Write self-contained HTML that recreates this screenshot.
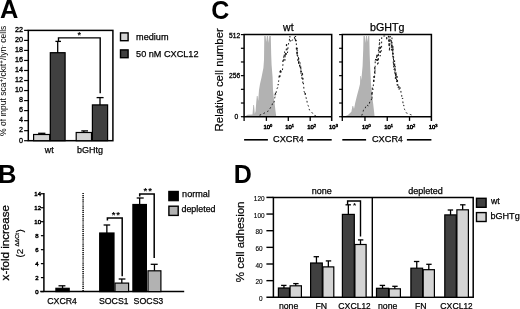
<!DOCTYPE html>
<html><head><meta charset="utf-8"><title>Figure</title>
<style>
html,body{margin:0;padding:0;background:#fff;}
body{width:520px;height:309px;overflow:hidden;}
svg{display:block;font-family:"Liberation Sans",Arial,Helvetica,sans-serif;fill:#000;}
</style></head><body>
<svg width="520" height="309" viewBox="0 0 520 309">
<defs><filter id="soft" x="0" y="0" width="520" height="309" filterUnits="userSpaceOnUse"><feGaussianBlur stdDeviation="0.38"/></filter></defs>
<rect x="0" y="0" width="520" height="309" fill="#fff" stroke="none"/>
<g filter="url(#soft)">
<text x="0.1" y="17.8" font-size="25.4" text-anchor="start" font-weight="bold"  >A</text>
<rect x="28.3" y="30.4" width="84.6" height="110.3" fill="none" stroke="#000" stroke-width="1.5"/>
<line x1="24.1" y1="140.7" x2="28.3" y2="140.7" stroke="#000" stroke-width="1.2" />
<text x="23" y="142.5" font-size="7.2" text-anchor="end" font-weight="normal" stroke="#000" stroke-width="0.35" >0</text>
<line x1="24.1" y1="130.67" x2="28.3" y2="130.67" stroke="#000" stroke-width="1.2" />
<text x="23" y="132.47" font-size="7.2" text-anchor="end" font-weight="normal" stroke="#000" stroke-width="0.35" >2</text>
<line x1="24.1" y1="120.64" x2="28.3" y2="120.64" stroke="#000" stroke-width="1.2" />
<text x="23" y="122.44" font-size="7.2" text-anchor="end" font-weight="normal" stroke="#000" stroke-width="0.35" >4</text>
<line x1="24.1" y1="110.61" x2="28.3" y2="110.61" stroke="#000" stroke-width="1.2" />
<text x="23" y="112.41" font-size="7.2" text-anchor="end" font-weight="normal" stroke="#000" stroke-width="0.35" >6</text>
<line x1="24.1" y1="100.58" x2="28.3" y2="100.58" stroke="#000" stroke-width="1.2" />
<text x="23" y="102.38" font-size="7.2" text-anchor="end" font-weight="normal" stroke="#000" stroke-width="0.35" >8</text>
<line x1="24.1" y1="90.55" x2="28.3" y2="90.55" stroke="#000" stroke-width="1.2" />
<text x="23" y="92.35" font-size="7.2" text-anchor="end" font-weight="normal" stroke="#000" stroke-width="0.35" >10</text>
<line x1="24.1" y1="80.52" x2="28.3" y2="80.52" stroke="#000" stroke-width="1.2" />
<text x="23" y="82.32" font-size="7.2" text-anchor="end" font-weight="normal" stroke="#000" stroke-width="0.35" >12</text>
<line x1="24.1" y1="70.49" x2="28.3" y2="70.49" stroke="#000" stroke-width="1.2" />
<text x="23" y="72.29" font-size="7.2" text-anchor="end" font-weight="normal" stroke="#000" stroke-width="0.35" >14</text>
<line x1="24.1" y1="60.46" x2="28.3" y2="60.46" stroke="#000" stroke-width="1.2" />
<text x="23" y="62.26" font-size="7.2" text-anchor="end" font-weight="normal" stroke="#000" stroke-width="0.35" >16</text>
<line x1="24.1" y1="50.43" x2="28.3" y2="50.43" stroke="#000" stroke-width="1.2" />
<text x="23" y="52.23" font-size="7.2" text-anchor="end" font-weight="normal" stroke="#000" stroke-width="0.35" >18</text>
<line x1="24.1" y1="40.4" x2="28.3" y2="40.4" stroke="#000" stroke-width="1.2" />
<text x="23" y="42.2" font-size="7.2" text-anchor="end" font-weight="normal" stroke="#000" stroke-width="0.35" >20</text>
<line x1="24.1" y1="30.37" x2="28.3" y2="30.37" stroke="#000" stroke-width="1.2" />
<text x="23" y="32.17" font-size="7.2" text-anchor="end" font-weight="normal" stroke="#000" stroke-width="0.35" >22</text>
<line x1="41.65" y1="134.9" x2="41.65" y2="133.3" stroke="#000" stroke-width="1.3" />
<line x1="38.1" y1="133.3" x2="45.4" y2="133.3" stroke="#000" stroke-width="1.3" />
<rect x="33.6" y="134.5" width="16.1" height="6.2" fill="#d4d4d4" stroke="#000" stroke-width="1.2"/>
<line x1="57.7" y1="53.1" x2="57.7" y2="41.4" stroke="#000" stroke-width="1.3" />
<line x1="55.4" y1="41.4" x2="61" y2="41.4" stroke="#000" stroke-width="1.3" />
<rect x="50.3" y="52.7" width="14.8" height="88" fill="#3f3f3f" stroke="#000" stroke-width="1.2"/>
<line x1="83.85" y1="132.9" x2="83.85" y2="130.9" stroke="#000" stroke-width="1.3" />
<line x1="81.3" y1="130.9" x2="88" y2="130.9" stroke="#000" stroke-width="1.3" />
<rect x="76.2" y="132.5" width="15.3" height="8.2" fill="#d4d4d4" stroke="#000" stroke-width="1.2"/>
<line x1="100" y1="105.3" x2="100" y2="97.6" stroke="#000" stroke-width="1.3" />
<line x1="96.6" y1="97.6" x2="103.6" y2="97.6" stroke="#000" stroke-width="1.3" />
<rect x="92.4" y="104.9" width="15.2" height="35.8" fill="#3f3f3f" stroke="#000" stroke-width="1.2"/>
<path d="M58.5,41.4 V37.9 H100.2 V93.2" fill="none" stroke="#000" stroke-width="1.4"/>
<text x="79.3" y="38.4" font-size="9" text-anchor="middle" font-weight="bold"  >*</text>
<text x="49.2" y="152.7" font-size="8.8" text-anchor="middle" font-weight="normal" stroke="#000" stroke-width="0.25" >wt</text>
<text x="90.1" y="152.7" font-size="9" text-anchor="middle" font-weight="normal" stroke="#000" stroke-width="0.25" >bGHtg</text>
<text transform="translate(6.2,80.8) rotate(-90)" font-size="8.5" text-anchor="middle" >% of input sca<tspan font-size="6.3" dy="-2.4">+</tspan><tspan dy="2.4">/ckit</tspan><tspan font-size="6.3" dy="-2.4">+</tspan><tspan dy="2.4">/lyn</tspan><tspan font-size="5.5" dy="-2.6">-</tspan><tspan dy="2.6"> cells</tspan></text>
<rect x="120.5" y="32.9" width="7.6" height="7.8" fill="#d4d4d4" stroke="#000" stroke-width="1.4"/>
<rect x="120.5" y="49.9" width="7.6" height="7.8" fill="#3f3f3f" stroke="#000" stroke-width="1.4"/>
<text x="136.1" y="39.7" font-size="9.15" text-anchor="start" font-weight="normal" stroke="#000" stroke-width="0.25" >medium</text>
<text x="136.1" y="56.7" font-size="9.15" text-anchor="start" font-weight="normal" stroke="#000" stroke-width="0.25" >50 nM CXCL12</text>
<text x="211.2" y="19.1" font-size="25" text-anchor="start" font-weight="bold"  >C</text>
<text transform="translate(223.1,79.8) rotate(-90)" font-size="11.4" text-anchor="middle" stroke="#000" stroke-width="0.2">Relative cell number</text>
<polygon points="244.2,116.7 247.6,114.8 252.5,114.4 253.3,105 254,105 254.8,114 255.6,111 256.2,103 256.8,96 257.6,96 258.2,101 259,90 260,84 261.5,77.6 262.6,72 263.4,67.9 264,60 264.3,36 265.6,36 266.2,42 266.9,36 268,36 268.6,43 269.3,36 270.8,36 271.2,55 271.6,65 272.6,77.6 273,90 274,100 274.7,104 275.5,111 276.3,116.7" fill="#b2b2b2"/>
<path d="M259.53,115.22 L261.06,114.64 L262.24,114.17 L264.2,113.16 L265.34,112.54 L266.98,112.51 L267.81,111.35 L268.44,110.06 L269.7,109.01 L270.44,107.75 L270.84,106.84 L271.95,105.85 L272.42,103.39 L273.48,103.83 L274.09,101.88 L274.49,100.37 L274.78,97.57 L275.13,96.36 L274.89,96.99 L275.23,91.97 L275.81,95.02 L276.18,92.01 L276.68,90.09 L277.25,87.88 L277.67,87.94 L277.91,87.23 L278.17,87.12 L277.9,84.46 L278.6,84.57 L278.59,83.63 L278.6,80.77 L279.04,80.45 L279.07,74.42 L279.96,78.31 L280.18,69.92 L280.12,71.66 L280.83,69.21 L280.73,73.83 L281.13,69.81 L281.7,69.58 L282.49,70.07 L282.9,64.46 L282.75,60.75 L283.05,62.87 L283.61,56.58 L283.79,60.4 L284.55,51.72 L284.94,53.86 L284.93,60.38 L285.26,53.12 L285.56,54.37 L285.82,51.86 L286,56.16 L286.38,47.3 L286.38,42.98 L287.51,52.98 L288.21,44.77 L289.21,41.29 L289.9,36 L290.24,42.23 L291.43,40.69 L292.31,40.14 L294.44,39.67 L294.46,36 L295.43,41.53 L295.55,36 L295.89,42.54 L296.04,40.15 L296.36,41.65 L296.38,41.98 L296.32,50.7 L296.89,48.92 L296.73,46.43 L296.89,55.04 L297.16,47.55 L297.19,56.09 L297.57,52.24 L297.86,60.45 L297.93,61.98 L298.46,56.58 L298.57,64.8 L298.73,58.05 L299.13,63.15 L299.88,67.74 L299.91,62.04 L300.49,70.36 L300.57,71.58 L300.8,65.82 L301.05,73.93 L301.4,70.8 L301.66,72.86 L301.77,78.81 L302.5,71.87 L302.79,80.87 L302.98,78.47 L302.76,83.83 L303.34,83.72 L303.36,84.44 L303.46,83.17 L303.51,84.23 L303.85,88.05 L303.92,90.79 L304.52,92.64 L304.9,93.93 L304.98,94.96 L305.35,91.73 L305.35,93.9 L305.75,97.43 L306.26,97.65 L306.22,99.87 L306.86,100.02 L307.13,102.25 L307.1,103.34 L307.79,105.29 L308.41,105.73 L309.05,108.57 L309.2,109.55 L310.57,110.63 L311.06,111.42 L312.42,113.13 L313.58,114.67 L314.5,115.43 L316,116" fill="none" stroke="#111" stroke-width="0.95" stroke-dasharray="1.7,2.6" stroke-linejoin="round"/>
<path d="M244.1,116.7 V34.6 H331.7 V120.9" fill="none" stroke="#000" stroke-width="1.5"/>
<line x1="243.35" y1="116.7" x2="331.7" y2="116.7" stroke="#000" stroke-width="1.5" />
<line x1="240.9" y1="34.6" x2="244.1" y2="34.6" stroke="#000" stroke-width="1.2" />
<line x1="240.9" y1="48.28" x2="244.1" y2="48.28" stroke="#000" stroke-width="1.2" />
<line x1="240.9" y1="61.97" x2="244.1" y2="61.97" stroke="#000" stroke-width="1.2" />
<line x1="240.9" y1="75.65" x2="244.1" y2="75.65" stroke="#000" stroke-width="1.2" />
<line x1="240.9" y1="89.33" x2="244.1" y2="89.33" stroke="#000" stroke-width="1.2" />
<line x1="240.9" y1="103.02" x2="244.1" y2="103.02" stroke="#000" stroke-width="1.2" />
<line x1="240.9" y1="116.7" x2="244.1" y2="116.7" stroke="#000" stroke-width="1.2" />
<line x1="244.1" y1="116.7" x2="244.1" y2="120.9" stroke="#000" stroke-width="1.3" />
<line x1="266.4" y1="116.7" x2="266.4" y2="120.9" stroke="#000" stroke-width="1.3" />
<line x1="288.3" y1="116.7" x2="288.3" y2="120.9" stroke="#000" stroke-width="1.3" />
<line x1="310.2" y1="116.7" x2="310.2" y2="120.9" stroke="#000" stroke-width="1.3" />
<text x="263.4" y="128.9" font-size="5.9" text-anchor="start" font-weight="normal" stroke="#000" stroke-width="0.5" >10<tspan font-size="4" dy="-2.2">0</tspan></text>
<text x="285.3" y="128.9" font-size="5.9" text-anchor="start" font-weight="normal" stroke="#000" stroke-width="0.5" >10<tspan font-size="4" dy="-2.2">1</tspan></text>
<text x="307.2" y="128.9" font-size="5.9" text-anchor="start" font-weight="normal" stroke="#000" stroke-width="0.5" >10<tspan font-size="4" dy="-2.2">2</tspan></text>
<text x="329.1" y="128.9" font-size="5.9" text-anchor="start" font-weight="normal" stroke="#000" stroke-width="0.5" >10<tspan font-size="4" dy="-2.2">3</tspan></text>
<text x="288.3" y="31" font-size="10.5" text-anchor="middle" font-weight="normal" stroke="#000" stroke-width="0.25" >wt</text>
<text x="288.4" y="141.8" font-size="9.2" text-anchor="middle" font-weight="normal" stroke="#000" stroke-width="0.25" >CXCR<tspan font-size="8.4">4</tspan></text>
<line x1="244.1" y1="139.8" x2="267.9" y2="139.8" stroke="#000" stroke-width="1.6" />
<line x1="307.2" y1="139.8" x2="331.7" y2="139.8" stroke="#000" stroke-width="1.6" />
<polygon points="342.4,116.7 345.6,116 348,115 351.4,111.8 352.4,106 353.2,106 354,109 355.2,103 357,95.6 358.5,90 360,84 360.3,76 360.9,76 361.3,80 362,72.6 362.6,66 363.2,50 363.5,36 364.8,36 365.4,43 366,36 367,36 367.6,42 368.2,36 369.3,36 369.7,55 370.2,67.9 371,84 372.4,97.5 373.2,104 374,110.9 374.6,116.7" fill="#b2b2b2"/>
<path d="M361.79,115.54 L362.19,114.31 L362.82,112.84 L363.35,110.7 L363.76,109.07 L364.29,108.01 L365.46,107.8 L365.83,105.91 L367.14,106.41 L367.67,105.27 L368.33,105.81 L369.27,104.47 L369.97,100.43 L371.19,100.1 L371.75,98.13 L372.32,99.26 L372.02,97.48 L371.98,93.15 L372,95.8 L371.97,92 L371.68,91.65 L372.19,92.97 L372.38,87.23 L372.83,88.22 L372.74,88.73 L372.9,89.85 L373.55,83.2 L373.52,79.1 L373.76,76.42 L373.83,82.89 L373.8,82.92 L374.1,79.59 L374.15,76.92 L374.57,78.89 L374.56,73.03 L374.74,66.27 L375.07,72.94 L374.8,74.23 L375.19,66.8 L375.22,60.14 L375.17,60.95 L375.88,57.93 L375.89,57.7 L376.58,60.62 L376.65,54.22 L377.23,60.84 L377.57,64.3 L377.65,53.56 L378.28,53.69 L378.19,63.47 L378.52,47.47 L378.95,47.04 L379.1,52.56 L379.47,39.39 L379.84,45.31 L380.21,56.17 L380.47,45.63 L380.43,47.8 L381.17,51.48 L381.55,49.68 L381.69,37.32 L382.21,36 L382.24,36 L384.3,36 L384.73,36 L385.29,36 L385.92,36 L386.62,36 L386.59,40.37 L387.11,36 L388.37,36 L389.1,46.6 L388.99,39.02 L388.96,36 L389.26,39.1 L389.4,51.17 L390.27,36 L390.19,41.97 L390.52,40.99 L391.33,41.84 L391.4,50.5 L391.44,38.36 L391.92,37.62 L392.17,46.69 L391.98,43.7 L392.59,54.87 L392.63,56.83 L392.74,57.27 L392.76,46.97 L392.62,50.76 L392.92,45.98 L393.32,51.61 L393.29,65.35 L393.73,66.04 L393.48,67.39 L393.52,56.11 L393.62,57.02 L394.22,65.19 L394.15,69.74 L394.52,67.95 L394.62,60.58 L394.87,73.99 L394.87,72.76 L395.23,65.93 L395.42,69.33 L395.36,79.01 L395.87,72.74 L395.7,78 L395.99,71.89 L396.68,82.35 L397,74.78 L397.19,85.29 L397.43,79.61 L397.41,78.6 L398.09,88.28 L398.66,85.05 L399.02,85.39 L399.03,90.09 L399.48,86.29 L400.05,87.49 L400.35,88.93 L400.91,89.27 L400.91,92.17 L401.44,94.96 L401.72,95.1 L401.75,96.81 L401.71,98.13 L402.06,98.89 L402.68,97.97 L402.73,100.12 L403.03,103.74 L403.26,103.34 L403.67,105.39 L403.79,105.18 L403.87,106.91 L404.6,109.54 L405.36,110.32 L405.77,112.14 L406.4,112.93 L407.82,113.51 L409.02,114.16 L410.43,114.52 L411.56,114.98 L412.5,115.2" fill="none" stroke="#111" stroke-width="0.95" stroke-dasharray="1.7,2.6" stroke-linejoin="round"/>
<path d="M342.3,116.7 V34.6 H431.4 V120.9" fill="none" stroke="#000" stroke-width="1.5"/>
<line x1="341.55" y1="116.7" x2="431.4" y2="116.7" stroke="#000" stroke-width="1.5" />
<line x1="339.1" y1="34.6" x2="342.3" y2="34.6" stroke="#000" stroke-width="1.2" />
<line x1="339.1" y1="48.28" x2="342.3" y2="48.28" stroke="#000" stroke-width="1.2" />
<line x1="339.1" y1="61.97" x2="342.3" y2="61.97" stroke="#000" stroke-width="1.2" />
<line x1="339.1" y1="75.65" x2="342.3" y2="75.65" stroke="#000" stroke-width="1.2" />
<line x1="339.1" y1="89.33" x2="342.3" y2="89.33" stroke="#000" stroke-width="1.2" />
<line x1="339.1" y1="103.02" x2="342.3" y2="103.02" stroke="#000" stroke-width="1.2" />
<line x1="339.1" y1="116.7" x2="342.3" y2="116.7" stroke="#000" stroke-width="1.2" />
<line x1="342.3" y1="116.7" x2="342.3" y2="120.9" stroke="#000" stroke-width="1.3" />
<line x1="364.97" y1="116.7" x2="364.97" y2="120.9" stroke="#000" stroke-width="1.3" />
<line x1="387.25" y1="116.7" x2="387.25" y2="120.9" stroke="#000" stroke-width="1.3" />
<line x1="409.52" y1="116.7" x2="409.52" y2="120.9" stroke="#000" stroke-width="1.3" />
<text x="361.97" y="128.9" font-size="5.9" text-anchor="start" font-weight="normal" stroke="#000" stroke-width="0.5" >10<tspan font-size="4" dy="-2.2">0</tspan></text>
<text x="384.25" y="128.9" font-size="5.9" text-anchor="start" font-weight="normal" stroke="#000" stroke-width="0.5" >10<tspan font-size="4" dy="-2.2">1</tspan></text>
<text x="406.52" y="128.9" font-size="5.9" text-anchor="start" font-weight="normal" stroke="#000" stroke-width="0.5" >10<tspan font-size="4" dy="-2.2">2</tspan></text>
<text x="428.8" y="128.9" font-size="5.9" text-anchor="start" font-weight="normal" stroke="#000" stroke-width="0.5" >10<tspan font-size="4" dy="-2.2">3</tspan></text>
<text x="387.25" y="31" font-size="10.7" text-anchor="middle" font-weight="normal" stroke="#000" stroke-width="0.25" >bGHTg</text>
<text x="387.35" y="141.8" font-size="9.2" text-anchor="middle" font-weight="normal" stroke="#000" stroke-width="0.25" >CXCR<tspan font-size="8.4">4</tspan></text>
<line x1="342.3" y1="139.8" x2="366.1" y2="139.8" stroke="#000" stroke-width="1.6" />
<line x1="406.9" y1="139.8" x2="431.4" y2="139.8" stroke="#000" stroke-width="1.6" />
<text x="240.2" y="37.5" font-size="6.7" text-anchor="end" font-weight="normal" stroke="#000" stroke-width="0.3" >512</text>
<text x="240.2" y="78.3" font-size="6.7" text-anchor="end" font-weight="normal" stroke="#000" stroke-width="0.3" >256</text>
<text x="238.2" y="119.4" font-size="6.7" text-anchor="end" font-weight="normal" stroke="#000" stroke-width="0.3" >0</text>
<text x="-1.9" y="183.2" font-size="25.5" text-anchor="start" font-weight="bold"  >B</text>
<line x1="43.9" y1="192.9" x2="43.9" y2="291.6" stroke="#000" stroke-width="1.5" />
<line x1="40.2" y1="291.6" x2="184.2" y2="291.6" stroke="#000" stroke-width="1.5" />
<line x1="40.9" y1="291.6" x2="43.9" y2="291.6" stroke="#000" stroke-width="1.2" />
<text x="38.5" y="293.7" font-size="6.0" text-anchor="end" font-weight="normal" stroke="#000" stroke-width="0.45" >0</text>
<line x1="40.9" y1="277.62" x2="43.9" y2="277.62" stroke="#000" stroke-width="1.2" />
<text x="38.5" y="279.72" font-size="6.0" text-anchor="end" font-weight="normal" stroke="#000" stroke-width="0.45" >2</text>
<line x1="40.9" y1="263.64" x2="43.9" y2="263.64" stroke="#000" stroke-width="1.2" />
<text x="38.5" y="265.74" font-size="6.0" text-anchor="end" font-weight="normal" stroke="#000" stroke-width="0.45" >4</text>
<line x1="40.9" y1="249.66" x2="43.9" y2="249.66" stroke="#000" stroke-width="1.2" />
<text x="38.5" y="251.76" font-size="6.0" text-anchor="end" font-weight="normal" stroke="#000" stroke-width="0.45" >6</text>
<line x1="40.9" y1="235.68" x2="43.9" y2="235.68" stroke="#000" stroke-width="1.2" />
<text x="38.5" y="237.78" font-size="6.0" text-anchor="end" font-weight="normal" stroke="#000" stroke-width="0.45" >8</text>
<line x1="40.9" y1="221.7" x2="43.9" y2="221.7" stroke="#000" stroke-width="1.2" />
<text x="41" y="223.8" font-size="6.0" text-anchor="end" font-weight="normal" stroke="#000" stroke-width="0.45" >10</text>
<line x1="40.9" y1="207.72" x2="43.9" y2="207.72" stroke="#000" stroke-width="1.2" />
<text x="41" y="209.82" font-size="6.0" text-anchor="end" font-weight="normal" stroke="#000" stroke-width="0.45" >12</text>
<line x1="40.9" y1="193.74" x2="43.9" y2="193.74" stroke="#000" stroke-width="1.2" />
<text x="41" y="195.84" font-size="6.0" text-anchor="end" font-weight="normal" stroke="#000" stroke-width="0.45" >14</text>
<line x1="83.1" y1="193" x2="83.1" y2="291" stroke="#000" stroke-width="1.5" stroke-dasharray="1.1,0.8"/>
<line x1="62.55" y1="288.7" x2="62.55" y2="285.8" stroke="#000" stroke-width="1.3" />
<line x1="58.5" y1="285.8" x2="65.4" y2="285.8" stroke="#000" stroke-width="1.3" />
<rect x="55.9" y="288.3" width="13.3" height="3.3" fill="#000" stroke="#000" stroke-width="1.2"/>
<line x1="106.85" y1="233.4" x2="106.85" y2="225" stroke="#000" stroke-width="1.3" />
<line x1="103.6" y1="225" x2="110.2" y2="225" stroke="#000" stroke-width="1.3" />
<rect x="99.7" y="233" width="14.3" height="58.6" fill="#000" stroke="#000" stroke-width="1.2"/>
<line x1="121.8" y1="283.5" x2="121.8" y2="279" stroke="#000" stroke-width="1.3" />
<line x1="118.7" y1="279" x2="125.4" y2="279" stroke="#000" stroke-width="1.3" />
<rect x="115" y="283.1" width="13.6" height="8.5" fill="#b2b2b2" stroke="#000" stroke-width="1.2"/>
<line x1="139.65" y1="204.9" x2="139.65" y2="198" stroke="#000" stroke-width="1.3" />
<line x1="136.7" y1="198" x2="143.7" y2="198" stroke="#000" stroke-width="1.3" />
<rect x="132.9" y="204.5" width="13.5" height="87.1" fill="#000" stroke="#000" stroke-width="1.2"/>
<line x1="154.45" y1="271.2" x2="154.45" y2="264.3" stroke="#000" stroke-width="1.3" />
<line x1="150.7" y1="264.3" x2="157.7" y2="264.3" stroke="#000" stroke-width="1.3" />
<rect x="148" y="270.8" width="12.9" height="20.8" fill="#b2b2b2" stroke="#000" stroke-width="1.2"/>
<path d="M107.4,220.6 V218.1 H122.2 V276.2" fill="none" stroke="#000" stroke-width="1.5"/>
<path d="M139.7,196.5 V194.1 H154.2 V258" fill="none" stroke="#000" stroke-width="1.5"/>
<text x="116.3" y="218" font-size="9.5" text-anchor="middle" font-weight="bold"  letter-spacing="0.9">**</text>
<text x="148.2" y="194.4" font-size="9.5" text-anchor="middle" font-weight="bold"  letter-spacing="0.9">**</text>
<text x="62" y="304.3" font-size="8.8" text-anchor="middle" font-weight="normal" stroke="#000" stroke-width="0.25" >CXCR<tspan font-size="8.5">4</tspan></text>
<text x="113.7" y="304.2" font-size="8.8" text-anchor="middle" font-weight="normal" stroke="#000" stroke-width="0.25" >SOCS<tspan font-size="8.4">1</tspan></text>
<text x="148.4" y="304.2" font-size="8.8" text-anchor="middle" font-weight="normal" stroke="#000" stroke-width="0.25" >SOCS<tspan font-size="8.4">3</tspan></text>
<text transform="translate(8.9,242.7) rotate(-90)" font-size="11.6" text-anchor="middle" stroke="#000" stroke-width="0.28">x-fold increase</text>
<text transform="translate(22.6,257.4) rotate(-90)" font-size="9.8" text-anchor="start" stroke="#000" stroke-width="0.15">(2</text>
<text transform="translate(18.9,246.6) rotate(-90)" font-size="5.8" text-anchor="start" stroke="#000" stroke-width="0.2">ΔΔCt</text>
<text transform="translate(22.6,232.6) rotate(-90)" font-size="9.8" text-anchor="start" stroke="#000" stroke-width="0.15">)</text>
<rect x="168.8" y="191.4" width="9.5" height="9.3" fill="#000" stroke="#000" stroke-width="1.2"/>
<rect x="168.9" y="206.2" width="9.3" height="9.2" fill="#b2b2b2" stroke="#000" stroke-width="1.4"/>
<text x="182.1" y="197.3" font-size="9.1" text-anchor="start" font-weight="normal" stroke="#000" stroke-width="0.25" >normal</text>
<text x="181.5" y="212.3" font-size="8.9" text-anchor="start" font-weight="normal" stroke="#000" stroke-width="0.25" >depleted</text>
<text x="233.7" y="182.9" font-size="25" text-anchor="start" font-weight="bold"  >D</text>
<path d="M273.4,297.3 V197.4 H473.2 V297.3" fill="none" stroke="#000" stroke-width="1.5"/>
<line x1="266.4" y1="297.3" x2="473.95" y2="297.3" stroke="#000" stroke-width="1.5" />
<line x1="266.4" y1="197.4" x2="273.4" y2="197.4" stroke="#000" stroke-width="1.5" />
<line x1="372.3" y1="197.4" x2="372.3" y2="297.3" stroke="#000" stroke-width="1.4" />
<text transform="translate(262.7,301) scale(0.86,1)" font-size="7.5" text-anchor="end" stroke="#000" stroke-width="0.15">0</text>
<line x1="266.4" y1="280.65" x2="273.4" y2="280.65" stroke="#000" stroke-width="1.4" />
<text transform="translate(262.7,284.35) scale(0.86,1)" font-size="7.5" text-anchor="end" stroke="#000" stroke-width="0.15">20</text>
<line x1="266.4" y1="264" x2="273.4" y2="264" stroke="#000" stroke-width="1.4" />
<text transform="translate(262.7,267.7) scale(0.86,1)" font-size="7.5" text-anchor="end" stroke="#000" stroke-width="0.15">40</text>
<line x1="266.4" y1="247.35" x2="273.4" y2="247.35" stroke="#000" stroke-width="1.4" />
<text transform="translate(262.7,251.05) scale(0.86,1)" font-size="7.5" text-anchor="end" stroke="#000" stroke-width="0.15">60</text>
<line x1="266.4" y1="230.7" x2="273.4" y2="230.7" stroke="#000" stroke-width="1.4" />
<text transform="translate(262.7,234.4) scale(0.86,1)" font-size="7.5" text-anchor="end" stroke="#000" stroke-width="0.15">80</text>
<line x1="266.4" y1="214.05" x2="273.4" y2="214.05" stroke="#000" stroke-width="1.4" />
<text transform="translate(264.6,217.75) scale(0.86,1)" font-size="7.5" text-anchor="end" stroke="#000" stroke-width="0.15">100</text>
<text transform="translate(264.6,201.1) scale(0.86,1)" font-size="7.5" text-anchor="end" stroke="#000" stroke-width="0.15">120</text>
<line x1="283.95" y1="288.4" x2="283.95" y2="285.4" stroke="#000" stroke-width="1.3" />
<line x1="281.1" y1="285.4" x2="286.5" y2="285.4" stroke="#000" stroke-width="1.3" />
<rect x="278.4" y="288" width="11.1" height="9.3" fill="#3f3f3f" stroke="#000" stroke-width="1.2"/>
<line x1="295.75" y1="286.2" x2="295.75" y2="283.6" stroke="#000" stroke-width="1.3" />
<line x1="293.2" y1="283.6" x2="298.6" y2="283.6" stroke="#000" stroke-width="1.3" />
<rect x="290.1" y="285.8" width="11.3" height="11.5" fill="#d4d4d4" stroke="#000" stroke-width="1.2"/>
<line x1="316.45" y1="263.4" x2="316.45" y2="256.7" stroke="#000" stroke-width="1.3" />
<line x1="313.6" y1="256.7" x2="319" y2="256.7" stroke="#000" stroke-width="1.3" />
<rect x="310.6" y="263" width="11.7" height="34.3" fill="#3f3f3f" stroke="#000" stroke-width="1.2"/>
<line x1="328.35" y1="267.3" x2="328.35" y2="260.9" stroke="#000" stroke-width="1.3" />
<line x1="325.8" y1="260.9" x2="331.2" y2="260.9" stroke="#000" stroke-width="1.3" />
<rect x="322.9" y="266.9" width="10.9" height="30.4" fill="#d4d4d4" stroke="#000" stroke-width="1.2"/>
<line x1="348.35" y1="214.8" x2="348.35" y2="204.8" stroke="#000" stroke-width="1.3" />
<line x1="345.5" y1="204.8" x2="350.9" y2="204.8" stroke="#000" stroke-width="1.3" />
<rect x="342.4" y="214.4" width="11.9" height="82.9" fill="#3f3f3f" stroke="#000" stroke-width="1.2"/>
<line x1="360.5" y1="244.9" x2="360.5" y2="239.9" stroke="#000" stroke-width="1.3" />
<line x1="357.95" y1="239.9" x2="363.35" y2="239.9" stroke="#000" stroke-width="1.3" />
<rect x="354.9" y="244.5" width="11.2" height="52.8" fill="#d4d4d4" stroke="#000" stroke-width="1.2"/>
<line x1="382.55" y1="288.7" x2="382.55" y2="285.4" stroke="#000" stroke-width="1.3" />
<line x1="379.7" y1="285.4" x2="385.1" y2="285.4" stroke="#000" stroke-width="1.3" />
<rect x="376.5" y="288.3" width="12.1" height="9" fill="#3f3f3f" stroke="#000" stroke-width="1.2"/>
<line x1="394.8" y1="289.2" x2="394.8" y2="286.3" stroke="#000" stroke-width="1.3" />
<line x1="392.25" y1="286.3" x2="397.65" y2="286.3" stroke="#000" stroke-width="1.3" />
<rect x="389.2" y="288.8" width="11.2" height="8.5" fill="#d4d4d4" stroke="#000" stroke-width="1.2"/>
<line x1="416.75" y1="268.6" x2="416.75" y2="261.5" stroke="#000" stroke-width="1.3" />
<line x1="413.9" y1="261.5" x2="419.3" y2="261.5" stroke="#000" stroke-width="1.3" />
<rect x="410.9" y="268.2" width="11.7" height="29.1" fill="#3f3f3f" stroke="#000" stroke-width="1.2"/>
<line x1="428.8" y1="270.1" x2="428.8" y2="264.3" stroke="#000" stroke-width="1.3" />
<line x1="426.25" y1="264.3" x2="431.65" y2="264.3" stroke="#000" stroke-width="1.3" />
<rect x="423.2" y="269.7" width="11.2" height="27.6" fill="#d4d4d4" stroke="#000" stroke-width="1.2"/>
<line x1="450.55" y1="215.3" x2="450.55" y2="210" stroke="#000" stroke-width="1.3" />
<line x1="447.7" y1="210" x2="453.1" y2="210" stroke="#000" stroke-width="1.3" />
<rect x="444.8" y="214.9" width="11.5" height="82.4" fill="#3f3f3f" stroke="#000" stroke-width="1.2"/>
<line x1="462.65" y1="210.2" x2="462.65" y2="204.8" stroke="#000" stroke-width="1.3" />
<line x1="460.1" y1="204.8" x2="465.5" y2="204.8" stroke="#000" stroke-width="1.3" />
<rect x="456.9" y="209.8" width="11.5" height="87.5" fill="#d4d4d4" stroke="#000" stroke-width="1.2"/>
<path d="M347.6,204.8 V201 H360.5 V236.6" fill="none" stroke="#000" stroke-width="1.4"/>
<text x="354.6" y="208.3" font-size="8" text-anchor="middle" font-weight="bold"  >*</text>
<text x="321.8" y="193.8" font-size="9" text-anchor="middle" font-weight="normal" stroke="#000" stroke-width="0.25" >none</text>
<text x="425.5" y="193.6" font-size="9" text-anchor="middle" font-weight="normal" stroke="#000" stroke-width="0.25" >depleted</text>
<text x="288.6" y="308.7" font-size="8.7" text-anchor="middle" font-weight="normal" stroke="#000" stroke-width="0.25" >none</text>
<text x="321.2" y="308.7" font-size="8.7" text-anchor="middle" font-weight="normal" stroke="#000" stroke-width="0.25" >FN</text>
<text x="354.5" y="308.7" font-size="8.7" text-anchor="middle" font-weight="normal" stroke="#000" stroke-width="0.25" >CXCL<tspan font-size="8.2">12</tspan></text>
<text x="387.7" y="308.7" font-size="8.7" text-anchor="middle" font-weight="normal" stroke="#000" stroke-width="0.25" >none</text>
<text x="420.8" y="308.7" font-size="8.7" text-anchor="middle" font-weight="normal" stroke="#000" stroke-width="0.25" >FN</text>
<text x="456.5" y="308.7" font-size="8.7" text-anchor="middle" font-weight="normal" stroke="#000" stroke-width="0.25" >CXCL<tspan font-size="8.2">12</tspan></text>
<text transform="translate(243.5,241.9) rotate(-90)" font-size="11.55" text-anchor="middle" stroke="#000" stroke-width="0.2">% cell adhesion</text>
<rect x="476.5" y="198.3" width="9.6" height="9" fill="#3f3f3f" stroke="#000" stroke-width="1.4"/>
<rect x="476.5" y="212.6" width="9.6" height="8.9" fill="#d4d4d4" stroke="#000" stroke-width="1.4"/>
<text x="491" y="203.7" font-size="8.8" text-anchor="start" font-weight="normal" stroke="#000" stroke-width="0.25" >wt</text>
<text x="490.4" y="219.3" font-size="9.1" text-anchor="start" font-weight="normal" stroke="#000" stroke-width="0.25" >bGHTg</text>
</g>
</svg>
</body></html>
